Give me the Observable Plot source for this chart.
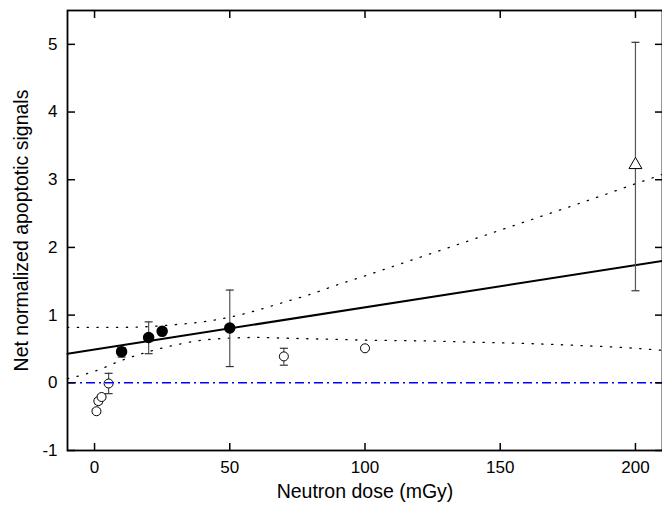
<!DOCTYPE html>
<html>
<head>
<meta charset="utf-8">
<script src="https://cdn.jsdelivr.net/npm/d3@7"></script>
<script src="https://cdn.jsdelivr.net/npm/@observablehq/plot@0.6"></script>
<style>
  html, body { margin: 0; padding: 0; background: #fff; }
  #chart { width: 662px; height: 511px; }
</style>
</head>
<body>
<div id="chart"></div>
<script>
// ---- data ----
const xTicks = [0, 50, 100, 150, 200];
const yTicks = [-1, 0, 1, 2, 3, 4, 5];
const xLabel = "Neutron dose (mGy)";
const yLabel = "Net normalized apoptotic signals";

// open circles
const openDose = [0.7, 1.4, 2.6, 5.2, 70, 100];
const openVal  = [-0.42, -0.27, -0.21, -0.01, 0.39, 0.51];
const openLo   = [-0.45, -0.31, -0.24, -0.16, 0.26, 0.48];
const openHi   = [-0.39, -0.23, -0.18, 0.14, 0.51, 0.55];

// filled circles
const filledDose = [10, 20, 25, 50];
const filledVal  = [0.46, 0.67, 0.76, 0.81];
const filledLo   = [0.38, 0.43, 0.74, 0.24];
const filledHi   = [0.52, 0.90, 0.79, 1.37];

// open triangle
const triDose = [200];
const triVal  = [3.22];
const triLo   = [1.36];
const triHi   = [5.03];

// linear fit (solid line) endpoints
const fitDose = [-10, 210];
const fitVal  = [0.43, 1.80];

// confidence band (dotted curves)
const bandDose  = [-10, 0, 10, 20, 30, 40, 50, 60, 70, 80, 90, 100, 120, 140, 160, 180, 200, 210];
const bandUpper = [0.82, 0.82, 0.82, 0.83, 0.86, 0.90, 0.97, 1.07, 1.19, 1.31, 1.45, 1.58, 1.85, 2.12, 2.39, 2.66, 2.94, 3.08];
const bandLower = [0.06, 0.17, 0.33, 0.46, 0.56, 0.63, 0.66, 0.67, 0.66, 0.65, 0.64, 0.63, 0.62, 0.60, 0.58, 0.55, 0.51, 0.48];

// ---- build tables ----
const mk = (xs, ys, lo, hi) => xs.map((x, i) => ({x, y: ys[i], lo: lo[i], hi: hi[i]}));
const openPts = mk(openDose, openVal, openLo, openHi);
const filledPts = mk(filledDose, filledVal, filledLo, filledHi);
const triPts = mk(triDose, triVal, triLo, triHi);
const allPts = [...openPts, ...filledPts, ...triPts];
const fit = fitDose.map((x, i) => ({x, y: fitVal[i]}));
const upper = bandDose.map((x, i) => ({x, y: bandUpper[i]}));
const lower = bandDose.map((x, i) => ({x, y: bandLower[i]}));

const capSymbol = {
  draw(ctx, size) {
    const w = Math.sqrt(size / Math.PI);
    ctx.moveTo(-w, 0);
    ctx.lineTo(w, 0);
  }
};

const W = 662, H = 511, ML = 67, MR = 0, MT = 10, MB = 61;
const fw = W - ML - MR, fh = H - MT - MB;
const font = "'Liberation Sans', Arial, sans-serif";

const chart = Plot.plot({
  width: W,
  height: H,
  marginLeft: ML,
  marginRight: MR,
  marginTop: MT,
  marginBottom: MB,
  style: {fontFamily: font, fontSize: "17px", background: "#fff", color: "#000", overflow: "visible"},
  x: {domain: [-10, 210]},
  y: {domain: [-1, 5.5]},
  marks: [
    // dotted confidence band
    Plot.line(upper, {x: "x", y: "y", curve: "monotone-x", stroke: "#000", strokeWidth: 1.3, strokeDasharray: "1.3,8.5"}),
    Plot.line(lower, {x: "x", y: "y", curve: "monotone-x", stroke: "#000", strokeWidth: 1.3, strokeDasharray: "1.3,8.5"}),
    // fit line
    Plot.line(fit, {x: "x", y: "y", stroke: "#000", strokeWidth: 2}),
    // error bars
    Plot.ruleX(allPts, {x: "x", y1: "lo", y2: "hi", stroke: "#555", strokeWidth: 1.2}),
    Plot.dot(allPts, {x: "x", y: "lo", symbol: capSymbol, r: 4, stroke: "#333", strokeWidth: 1.2}),
    Plot.dot(allPts, {x: "x", y: "hi", symbol: capSymbol, r: 4, stroke: "#333", strokeWidth: 1.2}),
    // points
    Plot.dot(openPts, {x: "x", y: "y", r: 4.5, fill: "#fff", stroke: "#000", strokeWidth: 1}),
    Plot.dot(filledPts, {x: "x", y: "y", r: 5, fill: "#000", stroke: "#000"}),
    Plot.dot(triPts, {x: "x", y: "y", symbol: "triangle", r: 4.8, fill: "#fff", stroke: "#000", strokeWidth: 1}),
    // zero line
    Plot.ruleY([0], {stroke: "#0000ff", strokeWidth: 1.5, strokeDasharray: "9,4,2,4"}),
    // inward ticks
    Plot.tickX(xTicks, {x: d => d, insetTop: fh - 7, stroke: "#000", strokeWidth: 1.5}),
    Plot.tickX(xTicks, {x: d => d, insetBottom: fh - 8, stroke: "#000", strokeWidth: 1.5}),
    Plot.tickY(yTicks, {y: d => d, insetRight: fw - 8, stroke: "#000", strokeWidth: 1.5}),
    Plot.tickY(yTicks, {y: d => d, insetLeft: fw - 7, stroke: "#000", strokeWidth: 1.5}),
    // tick labels
    Plot.axisX(xTicks, {tickSize: 0, tickPadding: 10, fontSize: 17, label: null, tickFormat: d => String(d)}),
    Plot.axisY(yTicks, {tickSize: 0, tickPadding: 10, fontSize: 17, label: null, tickFormat: d => String(d)}),
    // axis titles
    Plot.text([xLabel], {text: d => d, frameAnchor: "bottom", textAnchor: "middle", dy: 47, fontSize: 19.5, fill: "#000"}),
    Plot.text([yLabel], {text: d => d, frameAnchor: "left", textAnchor: "middle", rotate: -90, dx: -46, fontSize: 19.5, fill: "#000"}),
    // frame
    Plot.frame({stroke: "#000", strokeWidth: 1.8})
  ]
});
document.getElementById("chart").appendChild(chart);
</script>
</body>
</html>
